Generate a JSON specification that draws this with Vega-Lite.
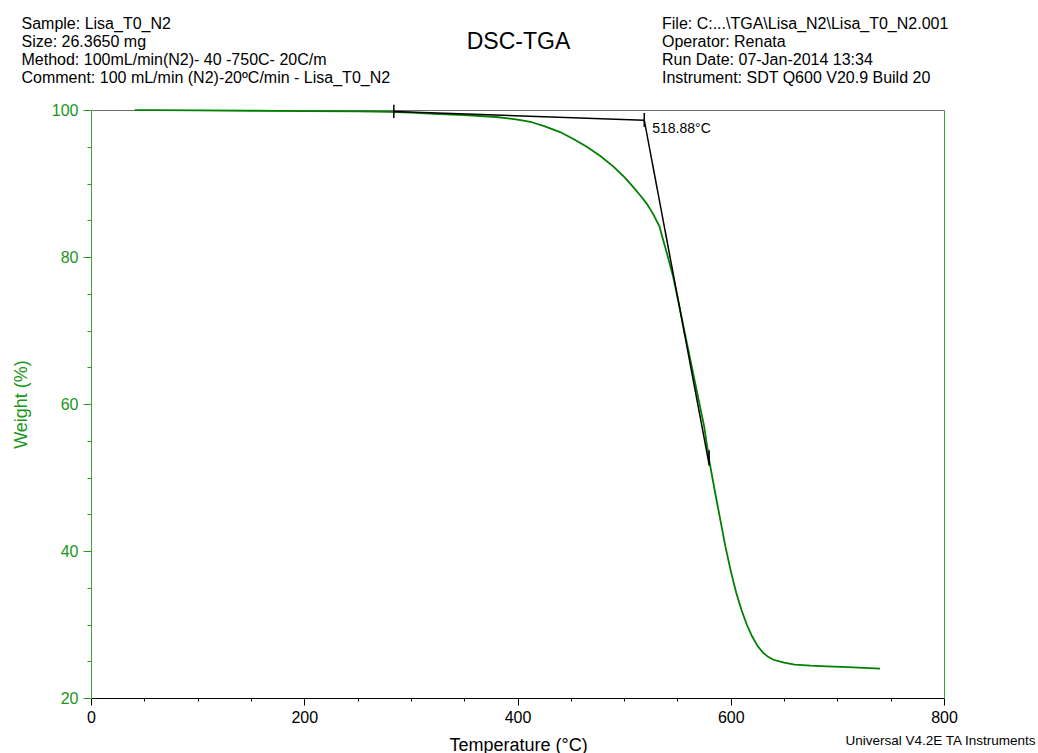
{
  "$schema": "https://vega.github.io/schema/vega-lite/v6.json",
  "width": 853,
  "height": 588,
  "autosize": {"type": "none"},
  "padding": {"left": 91, "top": 110, "right": 94, "bottom": 55},
  "background": "white",
  "config": {
    "view": {"stroke": null},
    "font": "Liberation Sans",
    "axis": {"grid": false, "labelFont": "Liberation Sans", "titleFont": "Liberation Sans", "titleFontWeight": "normal", "titleLimit": 2000, "tickWidth": 1, "domainWidth": 1}
  },
  "datasets": {
    "tga": [
      {"T": 41, "W": 99.98}, {"T": 60, "W": 99.97}, {"T": 100, "W": 99.94}, {"T": 150, "W": 99.9},
      {"T": 200, "W": 99.86}, {"T": 250, "W": 99.8}, {"T": 280, "W": 99.74}, {"T": 300, "W": 99.65},
      {"T": 327, "W": 99.45}, {"T": 350, "W": 99.3}, {"T": 380, "W": 99.05}, {"T": 400, "W": 98.7},
      {"T": 412, "W": 98.4}, {"T": 425, "W": 97.8}, {"T": 440, "W": 97.0}, {"T": 452, "W": 96.1},
      {"T": 465, "W": 95.0}, {"T": 478, "W": 93.7}, {"T": 490, "W": 92.3}, {"T": 500, "W": 90.9},
      {"T": 508, "W": 89.6}, {"T": 515, "W": 88.4}, {"T": 521, "W": 87.3}, {"T": 527, "W": 85.9},
      {"T": 533, "W": 84.2}, {"T": 538, "W": 81.6}, {"T": 542, "W": 79.5}, {"T": 546, "W": 77.3},
      {"T": 550, "W": 74.6}, {"T": 555, "W": 71.0}, {"T": 560, "W": 67.5}, {"T": 565, "W": 64.0},
      {"T": 570, "W": 60.5}, {"T": 575, "W": 57.0}, {"T": 580, "W": 52.2}, {"T": 585, "W": 48.2},
      {"T": 590, "W": 44.4}, {"T": 595, "W": 40.6}, {"T": 600, "W": 37.3}, {"T": 605, "W": 34.4},
      {"T": 610, "W": 32.0}, {"T": 615, "W": 30.0}, {"T": 620, "W": 28.4}, {"T": 625, "W": 27.1},
      {"T": 630, "W": 26.2}, {"T": 635, "W": 25.6}, {"T": 640, "W": 25.2}, {"T": 650, "W": 24.8},
      {"T": 660, "W": 24.55}, {"T": 675, "W": 24.4}, {"T": 690, "W": 24.3}, {"T": 710, "W": 24.2},
      {"T": 725, "W": 24.1}, {"T": 740, "W": 24.0}
    ],
    "tangent": [
      {"T1": 284, "W1": 99.8, "T2": 518.88, "W2": 98.62},
      {"T1": 518.88, "W1": 98.62, "T2": 579.7, "W2": 51.8}
    ],
    "markers": [
      {"T": 284, "W1": 100.7, "W2": 98.9},
      {"T": 518.88, "W1": 99.6, "W2": 97.7},
      {"T": 579.7, "W1": 53.7, "W2": 51.6}
    ],
    "onset": [{"T": 518.88, "W": 98.62, "label": "518.88°C"}]
  },
  "layer": [
    {
      "data": {"name": "tga"},
      "mark": {"type": "line", "color": "#008000", "strokeWidth": 1.8},
      "encoding": {
        "x": {
          "field": "T", "type": "quantitative",
          "scale": {"domain": [0, 800], "nice": false, "zero": false},
          "axis": {
            "orient": "bottom", "values": [0, 200, 400, 600, 800], "tickSize": 7,
            "tickColor": "black", "domainColor": "black", "labelColor": "black",
            "labelFontSize": 16, "labelPadding": 4, "labelFlush": false, "labelOverlap": false,
            "title": "Temperature (°C)", "titleFontSize": 18, "titleColor": "black",
            "titleX": 427, "titleY": 52, "titleAlign": "center", "titleBaseline": "alphabetic", "titleAngle": 0
          }
        },
        "y": {
          "field": "W", "type": "quantitative",
          "scale": {"domain": [20, 100], "nice": false, "zero": false},
          "axis": {
            "orient": "left", "values": [20, 40, 60, 80, 100], "tickSize": 8,
            "tickColor": "#2a9a2a", "domainColor": "#3aa63a", "labelColor": "#1a961a",
            "labelFontSize": 16, "labelPadding": 5, "labelFlush": false, "labelOverlap": false,
            "title": "Weight (%)", "titleFontSize": 18, "titleColor": "#1a961a",
            "titleX": -65, "titleY": 294, "titleAngle": -90, "titleAlign": "center", "titleBaseline": "alphabetic"
          }
        }
      }
    },
    {
      "data": {"name": "tangent"},
      "mark": {"type": "rule", "color": "black", "strokeWidth": 1.5},
      "encoding": {
        "x": {
          "field": "T1", "type": "quantitative",
          "axis": {
            "orient": "bottom", "values": [50, 100, 150, 250, 300, 350, 450, 500, 550, 650, 700, 750],
            "tickSize": 3, "tickColor": "black", "labels": false, "domain": false,
            "title": "Universal V4.2E TA Instruments", "titleFontSize": 13.5, "titleColor": "black",
            "titleX": 944, "titleY": 46, "titleAlign": "right", "titleBaseline": "alphabetic", "titleAngle": 0
          }
        },
        "x2": {"field": "T2"},
        "y": {
          "field": "W1", "type": "quantitative",
          "axis": {
            "orient": "left", "values": [25, 30, 35, 45, 50, 55, 65, 70, 75, 85, 90, 95],
            "tickSize": 4, "tickColor": "#2a9a2a", "labels": false, "domain": false,
            "title": "DSC-TGA", "titleFontSize": 23, "titleColor": "black",
            "titleX": 427, "titleY": -62, "titleAngle": 0, "titleAlign": "center", "titleBaseline": "alphabetic"
          }
        },
        "y2": {"field": "W2"}
      }
    },
    {
      "data": {"name": "markers"},
      "mark": {"type": "rule", "color": "black", "strokeWidth": 1.5},
      "encoding": {
        "x": {
          "field": "T", "type": "quantitative",
          "axis": {
            "orient": "top", "ticks": false, "labels": false, "domain": true, "domainColor": "#6e6e6e",
            "title": ["Sample: Lisa_T0_N2", "Size:  26.3650 mg", "Method: 100mL/min(N2)- 40 -750C- 20C/m", "Comment: 100 mL/min (N2)-20ºC/min - Lisa_T0_N2"],
            "titleFontSize": 16, "titleColor": "black", "titleLineHeight": 18,
            "titleX": -70, "titleY": -81.5, "titleAngle": 0, "titleAlign": "left", "titleBaseline": "alphabetic"
          }
        },
        "y": {
          "field": "W1", "type": "quantitative",
          "axis": {
            "orient": "right", "ticks": false, "labels": false, "domain": true, "domainColor": "#3aa63a",
            "title": ["File: C:...\\TGA\\Lisa_N2\\Lisa_T0_N2.001", "Operator: Renata", "Run Date: 07-Jan-2014 13:34", "Instrument: SDT Q600 V20.9 Build 20"],
            "titleFontSize": 16, "titleColor": "black", "titleLineHeight": 18,
            "titleX": -282.5, "titleY": -81.5, "titleAngle": 0, "titleAlign": "left", "titleBaseline": "alphabetic"
          }
        },
        "y2": {"field": "W2"}
      }
    },
    {
      "data": {"name": "onset"},
      "mark": {"type": "text", "align": "left", "baseline": "middle", "dx": 8, "dy": 9, "fontSize": 14, "color": "black", "font": "Liberation Sans"},
      "encoding": {
        "x": {"field": "T", "type": "quantitative", "axis": null},
        "y": {"field": "W", "type": "quantitative", "axis": null},
        "text": {"field": "label"}
      }
    }
  ],
  "resolve": {"axis": {"x": "independent", "y": "independent"}}
}
